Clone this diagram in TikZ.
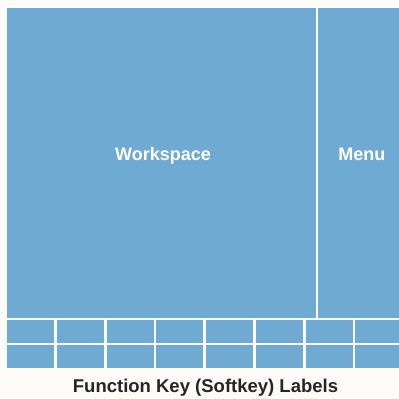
\documentclass[tikz,border=0pt]{standalone}
\usepackage{fontspec}
\setmainfont{Liberation Sans}
\definecolor{panelblue}{RGB}{110,170,210}
\definecolor{paper}{RGB}{252,251,247}
\tikzset{
  region/.style={fill=panelblue, draw=none},
  label/.style={text=white, font=\fontsize{18}{20}\selectfont\bfseries, inner sep=0pt, anchor=base},
  caption/.style={text=black!85, font=\fontsize{18.5}{20}\selectfont\bfseries, inner sep=0pt, anchor=base}
}
\newcommand{\px}[2]{(#1pt,{(399-#2)*1pt})}
\begin{document}
\begin{tikzpicture}[x=1pt,y=1pt]
\fill[paper] (0,0) rectangle (399,399);
\useasboundingbox (0,0) rectangle (399,399);
% workspace and menu
\fill[region] (7,{399-8}) rectangle (315.6,{399-317.8});
\fill[region] (318,{399-8}) rectangle (399,{399-317.8});
% softkeys
\foreach \i in {0,...,7}{
  \pgfmathsetmacro{\xa}{7+\i*49.75}
  \pgfmathsetmacro{\xb}{ifthenelse(\i==7,399,7+(\i+1)*49.75-2.7)}
  \fill[region] (\xa,{399-320.3}) rectangle (\xb,{399-342.8});
  \fill[region] (\xa,{399-345.3}) rectangle (\xb,{399-368});
}
\node[label] (ws) at (163,{399-160.7}) {Workspace};
\node[label] (menu) at (361.8,{399-160.7}) {Menu};
\node[caption] (cap) at (205.5,{399-392.7}) {Function Key (Softkey) Labels};
\end{tikzpicture}
\end{document}
